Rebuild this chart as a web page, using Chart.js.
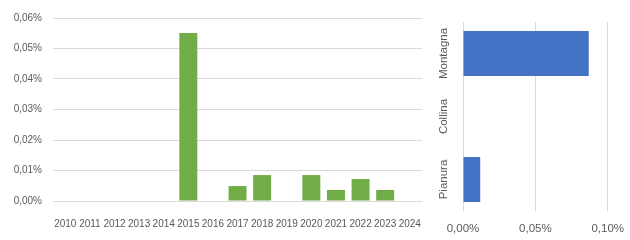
<!DOCTYPE html>
<html>
<head>
<meta charset="utf-8">
<script src="https://cdn.jsdelivr.net/npm/chart.js@4/dist/chart.umd.min.js"></script>
<style>
  html, body { margin: 0; padding: 0; background: #fff; overflow: hidden; }
  #wrap { position: relative; width: 630px; height: 240px; overflow: hidden; }
  canvas { position: absolute; top: 0; }
</style>
</head>
<body>
<div id="wrap">
  <canvas id="yearChart" width="430" height="240" style="left:0"></canvas>
  <canvas id="zoneChart" width="210" height="240" style="left:425px"></canvas>
</div>
<script>
// Values in percent
const years = ["2010", "2011", "2012", "2013", "2014", "2015", "2016", "2017",
  "2018", "2019", "2020", "2021", "2022", "2023", "2024"];
const yearValues = [0, 0, 0, 0, 0, 0.0551, 0, 0.0049, 0.0085, 0, 0.0085,
  0.0036, 0.0072, 0.0036, 0];

const zones = ["Montagna", "Collina", "Pianura"];
const zoneValues = [0.0869, 0, 0.0119];

const gridColor = "#d9d9d9";
const textColor = "#595959";
const pct = (v) => v.toFixed(2).replace(".", ",") + "%";

Chart.defaults.font.family = "'Liberation Sans', Arial, sans-serif";
Chart.defaults.color = textColor;

// Left chart: yearly bars
new Chart(document.getElementById("yearChart"), {
  type: "bar",
  data: {
    labels: years,
    datasets: [{
      data: yearValues,
      backgroundColor: "#70ad47",
      borderWidth: 0,
      barPercentage: 0.73,
      categoryPercentage: 1,
    }],
  },
  options: {
    responsive: false,
    animation: false,
    devicePixelRatio: 1,
    layout: { padding: { top: 18, right: 3, left: 0, bottom: 0 } },
    plugins: { legend: { display: false }, tooltip: { enabled: false } },
    scales: {
      x: {
        grid: { display: false },
        border: { display: false },
        ticks: { font: { size: 10 }, padding: 9, maxRotation: 0, autoSkip: false },
        afterFit: (s) => { s.height = 39; },
      },
      y: {
        min: 0,
        max: 0.06,
        grid: { color: gridColor, drawTicks: false },
        border: { display: false },
        ticks: { stepSize: 0.01, font: { size: 10 }, padding: 11, callback: pct },
        afterFit: (s) => { s.width = 53; },
      },
    },
  },
});

// Right chart: zones, horizontal bars
new Chart(document.getElementById("zoneChart"), {
  type: "bar",
  data: {
    labels: zones,
    datasets: [{
      data: zoneValues,
      backgroundColor: "#4472c4",
      borderWidth: 0,
      barPercentage: 0.714,
      categoryPercentage: 1,
    }],
  },
  options: {
    indexAxis: "y",
    responsive: false,
    animation: false,
    devicePixelRatio: 1,
    layout: { padding: { top: 22, right: 17, left: 0, bottom: 0 } },
    plugins: { legend: { display: false }, tooltip: { enabled: false } },
    scales: {
      x: {
        min: 0,
        max: 0.1,
        grid: { color: gridColor, drawTicks: false },
        border: { display: false },
        ticks: { stepSize: 0.05, font: { size: 11.5 }, padding: 11, callback: pct, maxRotation: 0 },
        afterFit: (s) => { s.height = 29; },
      },
      y: {
        grid: { display: false },
        border: { display: false },
        ticks: { font: { size: 11.5 }, minRotation: 90, maxRotation: 90, crossAlign: "center", padding: -14 },
        afterFit: (s) => { s.width = 38; },
      },
    },
  },
});
</script>
</body>
</html>
